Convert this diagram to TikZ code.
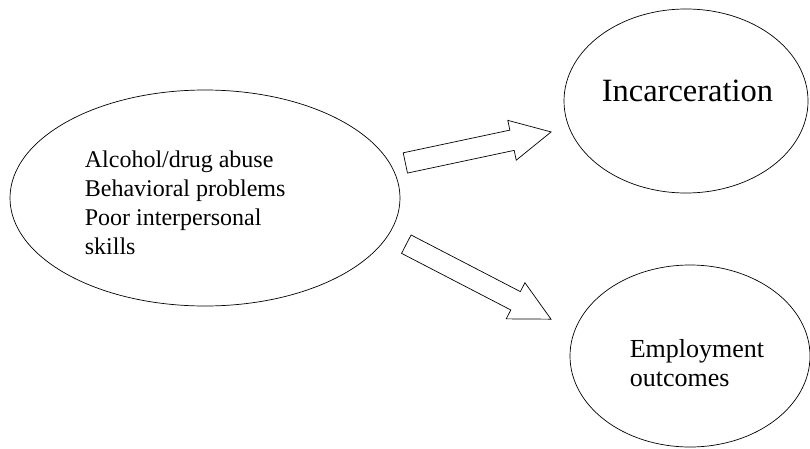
\documentclass[tikz,border=0pt]{standalone}
\usepackage{fontspec}
\setmainfont{Liberation Serif}
\usetikzlibrary{positioning,shapes.geometric,shapes.arrows}
\tikzset{
  bubble/.style     = {draw, ellipse, line width=0.7pt, inner sep=0pt},
  blockarrow/.style = {draw, single arrow, line width=0.7pt, inner xsep=0pt, inner ysep=10pt,
                       single arrow head extend=10pt, single arrow tip angle=54, minimum height=#1},
  lbl/.style        = {align=left, inner sep=0pt},
}

\begin{document}
\begin{tikzpicture}[x=1pt,y=1pt]
  \useasboundingbox (0,0) rectangle (810,448);
  % risk factors
  \node[bubble, minimum width=390pt, minimum height=216pt] (causes) at (205,250) {};
  \node[lbl, anchor=west, font=\fontsize{24}{29}\selectfont] (causestext)
    at ([xshift=75pt,yshift=-5pt]causes.west) {Alcohol/drug abuse\\Behavioral problems\\Poor interpersonal\\skills};
  % outcomes
  \node[bubble, minimum width=244pt, minimum height=184pt] (jail) at (686,347) {};
  \node[anchor=base, inner sep=0pt, font=\fontsize{32.5}{38}\selectfont] (jailtext)
    at ([xshift=1.5pt,yshift=-1pt]jail.center) {Incarceration};
  \node[bubble, minimum width=240pt, minimum height=182pt] (work) at (690,92) {};
  \node[lbl, anchor=west, font=\fontsize{26}{29}\selectfont] (worktext)
    at ([xshift=60pt,yshift=-7pt]work.west) {Employment\\outcomes};
  % block arrows
  \node[blockarrow=149pt, rotate=12, anchor=tail] (toJail) at (405,285) {};
  \node[blockarrow=163pt, rotate=-27.4, anchor=tail] (toWork) at (406,204) {};
\end{tikzpicture}
\end{document}
